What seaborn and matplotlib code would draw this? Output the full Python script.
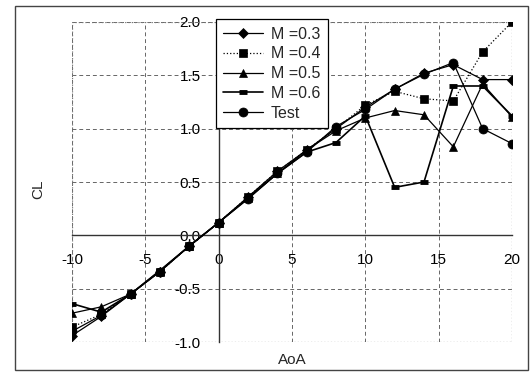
import numpy as np
import pandas as pd
import matplotlib
matplotlib.use("Agg")
import matplotlib.pyplot as plt
import seaborn as sns
from matplotlib.patches import Rectangle

# values
aoa = [-10, -8, -6, -4, -2, 0, 2, 4, 6, 8, 10, 12, 14, 16, 18, 20]
cl_m03 = [-0.94, -0.76, -0.55, -0.34, -0.10, 0.12, 0.36, 0.60, 0.80, 1.00, 1.20, 1.37, 1.52, 1.60, 1.46, 1.46]
cl_m04 = [-0.86, -0.74, -0.55, -0.34, -0.10, 0.12, 0.36, 0.60, 0.80, 1.00, 1.22, 1.35, 1.28, 1.26, 1.72, 2.00]
cl_m05 = [-0.73, -0.67, -0.55, -0.33, -0.10, 0.12, 0.35, 0.58, 0.80, 0.98, 1.10, 1.17, 1.13, 0.83, 1.42, 1.11]
cl_m06 = [-0.64, -0.72, -0.55, -0.33, -0.10, 0.12, 0.35, 0.58, 0.78, 0.87, 1.12, 0.45, 0.50, 1.40, 1.40, 1.12]
cl_test = [-0.90, -0.75, -0.55, -0.34, -0.10, 0.12, 0.34, 0.58, 0.78, 1.02, 1.18, 1.37, 1.51, 1.62, 1.00, 0.86]

series_names = ["M =0.3", "M =0.4", "M =0.5", "M =0.6", "Test"]
series_vals = [cl_m03, cl_m04, cl_m05, cl_m06, cl_test]
markers = ["D", "s", "^", "_", "o"]
msizes = [5, 6, 6, 6, 6.5]
mews = [0.5, 0.5, 0.5, 3.5, 0.5]
lstyles = ["-", ":", "-", "-", "-"]
lwidths = [0.9, 0.9, 0.9, 1.2, 0.9]

sns.set_style("white")
plt.rcParams["font.family"] = ["Liberation Sans", "DejaVu Sans"]
plt.rcParams["axes.unicode_minus"] = False

fig = plt.figure(figsize=(5.32, 3.72), dpi=100)
ax = fig.add_axes([0.1353, 0.0806, 0.8271, 0.8603])

for name, vals, mk, ms, mew, ls, lw in zip(series_names, series_vals, markers, msizes, mews, lstyles, lwidths):
    df = pd.DataFrame({"AoA": aoa, "CL": vals})
    sns.lineplot(data=df, x="AoA", y="CL", ax=ax, color="black", marker=mk,
                 markersize=ms, markeredgewidth=mew,
                 markeredgecolor="black", linestyle=ls, linewidth=lw,
                 label=name, zorder=3)

ax.set_xlim(-10, 20)
ax.set_ylim(-1.0, 2.0)
ax.set_xticks([-10, -5, 0, 5, 10, 15, 20])
ax.set_yticks([-1.0, -0.5, 0.0, 0.5, 1.0, 1.5, 2.0])
ax.set_yticklabels(["-1.0", "-0.5", "0.0", "0.5", "1.0", "1.5", "2.0"])

ax.grid(True, linestyle=(0, (4, 3)), color="#666666", linewidth=0.7)
ax.set_axisbelow(True)

for side in ["top", "right"]:
    ax.spines[side].set_visible(False)
ax.spines["left"].set_position(("data", 0))
ax.spines["bottom"].set_position(("data", 0))
ax.spines["left"].set_color("#333333")
ax.spines["bottom"].set_color("#333333")
ax.spines["left"].set_linewidth(1.0)
ax.spines["bottom"].set_linewidth(1.0)

# dotted plot-area border
ax.add_patch(Rectangle((0, 0), 1, 1, transform=ax.transAxes, fill=False,
                       linestyle=":", edgecolor="#777777", linewidth=0.9, zorder=1))

ax.tick_params(axis="both", length=0, labelsize=11, colors="black", pad=13)

ax.set_xlabel("")
ax.set_ylabel("")
fig.text(0.549, 0.032, "AoA", ha="center", va="center", fontsize=11)
fig.text(0.071, 0.49, "CL", ha="center", va="center", rotation=90, fontsize=11)

leg = ax.legend(loc="upper left", bbox_to_anchor=(0.327, 1.008), frameon=True,
                fancybox=False, framealpha=1, edgecolor="black", fontsize=11.5,
                handlelength=2.5, handletextpad=0.5, borderpad=0.45,
                labelspacing=0.3, borderaxespad=0)
leg.get_frame().set_linewidth(0.9)

# outer chart frame
fig.patches.append(Rectangle((0.028, 0.006), 0.964, 0.978, transform=fig.transFigure,
                             fill=False, edgecolor="#444444", linewidth=1.0))

fig.savefig("out.png", dpi=100)
